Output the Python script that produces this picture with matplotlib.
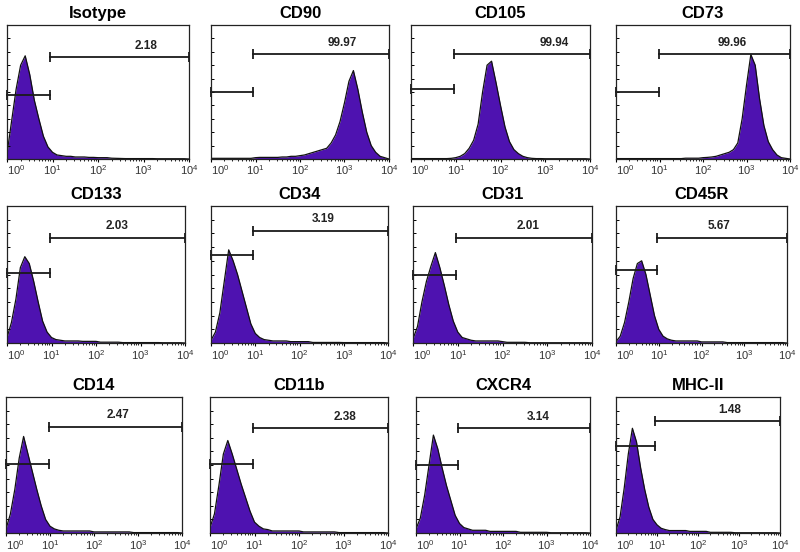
import matplotlib
matplotlib.use("Agg")
import matplotlib.pyplot as plt
from matplotlib.ticker import FixedLocator

plt.rcParams['font.family'] = ['Liberation Sans', 'DejaVu Sans']
plt.rcParams['mathtext.fontset'] = 'custom'
plt.rcParams['mathtext.rm'] = 'Liberation Sans'
plt.rcParams['mathtext.it'] = 'Liberation Sans'

# fluorescence channel (log10 of intensity) where the histogram height was read
channels = [0.0, 0.1, 0.2, 0.3, 0.4, 0.5, 0.6, 0.7, 0.8, 0.9,
            1.0, 1.1, 1.2, 1.3, 1.4, 1.5, 1.6, 1.7, 1.8, 1.9,
            2.0, 2.1, 2.2, 2.3, 2.4, 2.5, 2.6, 2.7, 2.8, 2.9,
            3.0, 3.1, 3.2, 3.3, 3.4, 3.5, 3.6, 3.7, 3.8, 3.9,
            4.0]

# relative event counts (fraction of the y range)
isotype = [0.04, 0.28, 0.52, 0.70, 0.77, 0.63, 0.44, 0.30, 0.17, 0.09,
           0.05, 0.03, 0.025, 0.02, 0.02, 0.015, 0.015, 0.015, 0.012, 0.012,
           0.01, 0.01, 0.01, 0.006, 0.005, 0.004, 0.003, 0.003, 0.003, 0.003,
           0.003, 0.003, 0.003, 0.002, 0.002, 0.002, 0.002, 0.002, 0.002, 0.002,
           0.0]
cd90 = [0.005, 0.005, 0.005, 0.005, 0.005, 0.005, 0.005, 0.005, 0.005, 0.005,
        0.01, 0.012, 0.012, 0.012, 0.012, 0.012, 0.015, 0.015, 0.02, 0.02,
        0.025, 0.03, 0.04, 0.05, 0.06, 0.07, 0.08, 0.12, 0.18, 0.28,
        0.42, 0.58, 0.66, 0.52, 0.35, 0.2, 0.1, 0.05, 0.02, 0.01,
        0.0]
cd105 = [0.003, 0.003, 0.003, 0.003, 0.003, 0.003, 0.003, 0.003, 0.003, 0.005,
         0.01, 0.02, 0.04, 0.08, 0.14, 0.26, 0.5, 0.7, 0.73, 0.57,
         0.4, 0.24, 0.13, 0.07, 0.04, 0.02, 0.01, 0.005, 0.003, 0.003,
         0.002, 0.002, 0.002, 0.002, 0.002, 0.002, 0.002, 0.002, 0.002, 0.002,
         0.0]
cd73 = [0.003, 0.003, 0.003, 0.003, 0.003, 0.003, 0.003, 0.003, 0.003, 0.003,
        0.003, 0.003, 0.003, 0.003, 0.003, 0.003, 0.006, 0.006, 0.006, 0.006,
        0.01, 0.012, 0.015, 0.02, 0.03, 0.04, 0.05, 0.07, 0.12, 0.3,
        0.55, 0.78, 0.7, 0.45, 0.25, 0.13, 0.07, 0.03, 0.01, 0.005,
        0.0]
cd133 = [0.04, 0.15, 0.32, 0.55, 0.63, 0.58, 0.45, 0.3, 0.16, 0.08,
         0.04, 0.025, 0.02, 0.015, 0.015, 0.015, 0.015, 0.012, 0.012, 0.012,
         0.012, 0.006, 0.006, 0.006, 0.006, 0.006, 0.003, 0.003, 0.003, 0.003,
         0.003, 0.003, 0.003, 0.003, 0.003, 0.002, 0.002, 0.002, 0.002, 0.002,
         0.0]
cd34 = [0.02, 0.08, 0.22, 0.45, 0.68, 0.6, 0.5, 0.38, 0.26, 0.14,
        0.07, 0.04, 0.025, 0.02, 0.015, 0.015, 0.015, 0.015, 0.01, 0.01,
        0.01, 0.01, 0.01, 0.004, 0.004, 0.004, 0.004, 0.004, 0.004, 0.004,
        0.003, 0.003, 0.003, 0.003, 0.003, 0.003, 0.003, 0.003, 0.003, 0.003,
        0.0]
cd31 = [0.03, 0.12, 0.3, 0.45, 0.56, 0.66, 0.55, 0.42, 0.28, 0.16,
        0.08, 0.04, 0.03, 0.02, 0.015, 0.015, 0.015, 0.015, 0.015, 0.015,
        0.01, 0.005, 0.005, 0.005, 0.005, 0.005, 0.002, 0.002, 0.002, 0.002,
        0.002, 0.002, 0.002, 0.002, 0.002, 0.002, 0.002, 0.002, 0.002, 0.002,
        0.0]
cd45r = [0.01, 0.05, 0.15, 0.3, 0.47, 0.58, 0.6, 0.5, 0.35, 0.2,
         0.1, 0.05, 0.03, 0.02, 0.015, 0.015, 0.015, 0.015, 0.015, 0.015,
         0.008, 0.008, 0.008, 0.008, 0.008, 0.008, 0.003, 0.003, 0.003, 0.003,
         0.003, 0.003, 0.003, 0.003, 0.003, 0.003, 0.003, 0.003, 0.003, 0.003,
         0.0]
cd14 = [0.03, 0.14, 0.32, 0.55, 0.71, 0.58, 0.45, 0.32, 0.2, 0.1,
        0.05, 0.03, 0.02, 0.015, 0.015, 0.015, 0.015, 0.015, 0.015, 0.015,
        0.008, 0.008, 0.008, 0.008, 0.008, 0.008, 0.008, 0.008, 0.008, 0.003,
        0.003, 0.003, 0.003, 0.003, 0.003, 0.003, 0.003, 0.003, 0.003, 0.003,
        0.0]
cd11b = [0.04, 0.14, 0.35, 0.58, 0.68, 0.58, 0.47, 0.36, 0.26, 0.16,
         0.08, 0.05, 0.03, 0.025, 0.015, 0.015, 0.015, 0.015, 0.015, 0.015,
         0.015, 0.008, 0.008, 0.008, 0.008, 0.008, 0.008, 0.008, 0.008, 0.003,
         0.003, 0.003, 0.003, 0.003, 0.003, 0.003, 0.003, 0.003, 0.003, 0.003,
         0.0]
cxcr4 = [0.03, 0.11, 0.28, 0.5, 0.72, 0.62, 0.48, 0.35, 0.24, 0.13,
         0.07, 0.04, 0.03, 0.02, 0.02, 0.02, 0.02, 0.012, 0.012, 0.012,
         0.012, 0.012, 0.012, 0.012, 0.005, 0.005, 0.005, 0.005, 0.005, 0.005,
         0.005, 0.002, 0.002, 0.002, 0.002, 0.002, 0.002, 0.002, 0.002, 0.002,
         0.0]
mhc2 = [0.02, 0.12, 0.33, 0.58, 0.77, 0.67, 0.48, 0.32, 0.19, 0.1,
        0.06, 0.035, 0.025, 0.018, 0.018, 0.018, 0.018, 0.018, 0.012, 0.012,
        0.012, 0.012, 0.012, 0.005, 0.005, 0.005, 0.005, 0.005, 0.005, 0.002,
        0.002, 0.002, 0.002, 0.002, 0.002, 0.002, 0.002, 0.002, 0.002, 0.002,
        0.0]

markers = ['Isotype', 'CD90', 'CD105', 'CD73',
           'CD133', 'CD34', 'CD31', 'CD45R',
           'CD14', 'CD11b', 'CXCR4', 'MHC-II']
histograms = [isotype, cd90, cd105, cd73,
              cd133, cd34, cd31, cd45r,
              cd14, cd11b, cxcr4, mhc2]
percent_positive = ['2.18', '99.97', '99.94', '99.96',
                    '2.03', '3.19', '2.01', '5.67',
                    '2.47', '2.38', '3.14', '1.48']
# marker gate: split point (log10) and heights of the negative / positive bars
gate_split = [0.94, 0.95, 0.95, 0.98, 0.96, 0.96, 0.96, 0.96, 0.97, 0.96, 0.96, 0.94]
gate_low = [0.48, 0.50, 0.52, 0.50, 0.51, 0.64, 0.50, 0.53, 0.51, 0.51, 0.50, 0.64]
gate_high = [0.76, 0.78, 0.78, 0.78, 0.77, 0.82, 0.77, 0.77, 0.78, 0.77, 0.77, 0.82]
label_x = [3.06, 2.94, 3.2, 2.67, 2.47, 2.54, 2.58, 2.4, 2.55, 3.04, 2.8, 2.78]

decades = [0, 1, 2, 3, 4]
decade_labels = [r'$10^{0}$', r'$10^{1}$', r'$10^{2}$', r'$10^{3}$', r'$10^{4}$']

# panel boxes in pixels: left, top, right, bottom
boxes = [(7, 25, 189, 159), (211, 25, 389, 159), (411, 25, 590, 159), (616, 25, 790, 159),
         (7, 206, 185, 343), (211, 206, 388, 343), (413, 206, 592, 343), (616, 206, 787, 343),
         (6, 397, 182, 533), (210, 397, 388, 533), (416, 397, 590, 533), (616, 397, 780, 533)]

W, H = 800, 552
fig = plt.figure(figsize=(W / 100, H / 100), dpi=100)
fill_color = '#4e12b0'

for i, name in enumerate(markers):
    x0, y0, x1, y1 = boxes[i]
    ax = fig.add_axes([x0 / W, 1 - y1 / H, (x1 - x0) / W, (y1 - y0) / H])

    ax.fill_between(channels, histograms[i], 0, color=fill_color, lw=0)
    ax.plot(channels, histograms[i], color='#111111', lw=0.9)

    # gates
    s = gate_split[i]
    ax.plot([0, s], [gate_low[i], gate_low[i]], color='#1a1a1a', lw=1.3,
            marker='|', markersize=7, mew=1.3, clip_on=False)
    ax.plot([s, 4], [gate_high[i], gate_high[i]], color='#1a1a1a', lw=1.3,
            marker='|', markersize=7, mew=1.3, clip_on=False)
    ax.text(label_x[i], gate_high[i] + 0.04, percent_positive[i], ha='center',
            va='bottom', fontsize=8.5, fontweight='bold', color='#222222')

    ax.set_xlim(0, 4)
    ax.set_ylim(0, 1)
    ax.set_title(name, fontsize=12, fontweight='bold', pad=5)

    # decade labels drawn as text so the first one can sit inside the figure
    ax.set_xticks(decades)
    ax.set_xticklabels([])
    xform = ax.get_xaxis_transform()
    for d, lab in zip(decades, decade_labels):
        ax.text(d, -0.035, lab, transform=xform, ha='left' if d == 0 else 'center',
                va='top', fontsize=8, color='#333333')

    minor = []
    for d in [0, 1, 2, 3]:
        for m in [0.301, 0.477, 0.602, 0.699, 0.778, 0.845, 0.903, 0.954]:
            minor.append(d + m)
    ax.xaxis.set_minor_locator(FixedLocator(minor))
    ax.set_yticks([0.1, 0.2, 0.3, 0.4, 0.5, 0.6, 0.7, 0.8, 0.9])
    ax.set_yticklabels([])
    ax.tick_params(axis='x', which='major', length=2.5, width=0.8)
    ax.tick_params(axis='x', which='minor', length=1.2, width=0.6)
    ax.tick_params(axis='y', length=2, width=0.7, direction='in')
    for sp in ax.spines.values():
        sp.set_linewidth(0.9)
        sp.set_color('#222222')

plt.savefig('out.png', dpi=100)
